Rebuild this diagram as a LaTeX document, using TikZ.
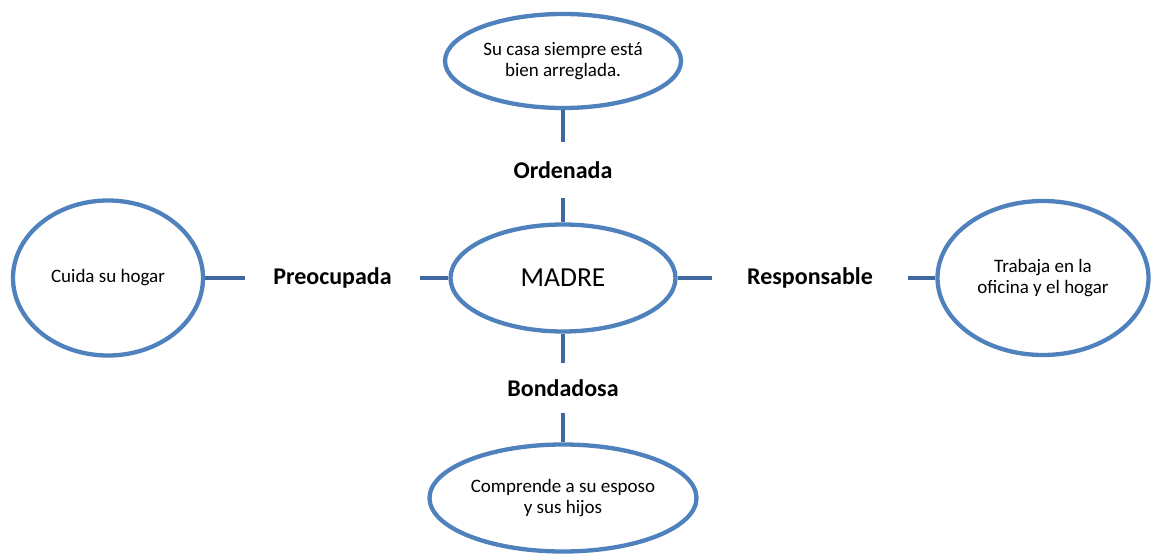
\documentclass[tikz,border=0pt]{standalone}
\usepackage{fontspec}
\setmainfont{Carlito}
\usetikzlibrary{shapes.geometric}
\definecolor{ellblue}{HTML}{4F81BD}
\definecolor{linkblue}{HTML}{4068A0}
\begin{document}
\begin{tikzpicture}[x=1pt,y=-1pt,
  bubble/.style={ellipse,draw=ellblue,line width=4.3pt,inner sep=0pt,align=center,font=\fontsize{19}{21.5}\selectfont},
  tag/.style={inner sep=0pt,font=\fontsize{24}{27}\selectfont\bfseries},
  link/.style={draw=linkblue,line width=4.8pt}]
\useasboundingbox (0,0) rectangle (1156,556);
\node[bubble,minimum width=236,minimum height=94] (top) at (563,61) {Su casa siempre está\\bien arreglada.};
\node[bubble,minimum width=225,minimum height=107,font=\fontsize{27.5}{30}\selectfont] (madre) at (563,278) {MADRE};
\node[bubble,minimum width=190,minimum height=155] (left) at (108,278) {Cuida su hogar};
\node[bubble,minimum width=211,minimum height=154] (right) at (1043,278) {Trabaja en la\\oficina y el hogar};
\node[bubble,minimum width=267,minimum height=107] (bottom) at (563,498) {Comprende a su esposo\\y sus hijos};
\node[tag,minimum width=10,minimum height=55] (ord) at (563,170) {Ordenada};
\node[tag,minimum width=175,minimum height=10] (pre) at (332.5,278) {Preocupada};
\node[tag,minimum width=196,minimum height=10] (res) at (810,278) {Responsable};
\node[tag,minimum width=10,minimum height=50] (bon) at (563,388) {Bondadosa};
\draw[link] (top.south) -- (ord.north);
\draw[link] (ord.south) -- (madre.north);
\draw[link] (left.east) -- (pre.west);
\draw[link] (pre.east) -- (madre.west);
\draw[link] (madre.east) -- (res.west);
\draw[link] (res.east) -- (right.west);
\draw[link] (madre.south) -- (bon.north);
\draw[link] (bon.south) -- (bottom.north);
\end{tikzpicture}
\end{document}
